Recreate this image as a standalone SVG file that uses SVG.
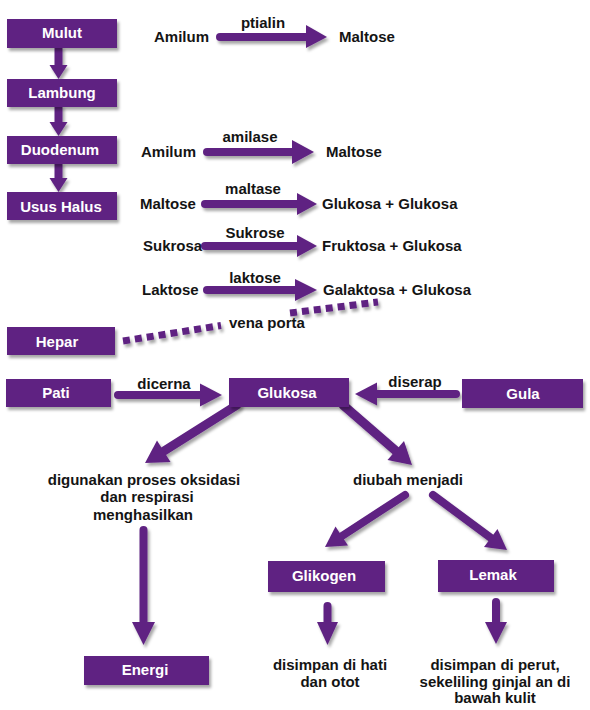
<svg xmlns="http://www.w3.org/2000/svg" width="590" height="710" viewBox="0 0 590 710">
<defs>
<filter id="sh" x="-10%" y="-20%" width="130%" height="160%">
<feDropShadow dx="2" dy="3" stdDeviation="1.8" flood-color="#000" flood-opacity="0.35"/>
</filter>
<style>
.box{fill:#5f2282;filter:url(#sh)}
.bt{font-family:"Liberation Sans",Arial,sans-serif;font-weight:bold;font-size:15px;fill:#fff;text-anchor:middle}
.t{font-family:"Liberation Sans",Arial,sans-serif;font-weight:bold;font-size:15px;fill:#141414}
.c{text-anchor:middle}
.sh{stroke:#5f2282;stroke-width:8;stroke-linecap:round;fill:none}
.hd{fill:#5f2282}
.dot{stroke:#5f2282;stroke-width:7;stroke-dasharray:7 5;fill:none}
</style>
</defs>
<rect width="590" height="710" fill="#fff"/>

<g id="connectors" filter="url(#sh)">
<!-- vertical organ chain -->
<line class="sh" x1="58.5" y1="46" x2="58.5" y2="66" style="stroke-linecap:butt"/>
<polygon class="hd" points="49.5,65 67.5,65 58.5,79"/>
<line class="sh" x1="58.5" y1="105" x2="58.5" y2="123" style="stroke-linecap:butt"/>
<polygon class="hd" points="49.5,122 67.5,122 58.5,136"/>
<line class="sh" x1="58.5" y1="162" x2="58.5" y2="179" style="stroke-linecap:butt"/>
<polygon class="hd" points="49.5,178 67.5,178 58.5,192"/>
<!-- reactions -->
<line class="sh" x1="220" y1="37" x2="307" y2="37"/>
<polygon class="hd" points="306,25 306,48 327,37"/>
<line class="sh" x1="207" y1="152" x2="293" y2="152"/>
<polygon class="hd" points="292,140 292,164 314,152"/>
<line class="sh" x1="205" y1="204" x2="298" y2="204"/>
<polygon class="hd" points="297,193 297,215 317,204"/>
<line class="sh" x1="205" y1="246" x2="298" y2="246"/>
<polygon class="hd" points="297,235 297,257 317,246"/>
<line class="sh" x1="207" y1="290" x2="296" y2="290"/>
<polygon class="hd" points="295,279 295,301 317,290"/>
<!-- vena porta -->
<line class="dot" x1="123" y1="341" x2="221" y2="325.5"/>
<line class="dot" x1="290" y1="313" x2="378" y2="302"/>
<!-- Pati / Gula to Glukosa -->
<line class="sh" x1="118" y1="395" x2="201" y2="395"/>
<polygon class="hd" points="200,383.5 200,406.5 222,395"/>
<line class="sh" x1="456" y1="394" x2="376" y2="394"/>
<polygon class="hd" points="377,382.5 377,405.5 355,394"/>
<!-- Glukosa branches -->
<line class="sh" x1="237" y1="405" x2="164" y2="451" style="stroke-width:9"/>
<polygon class="hd" points="170.5,462 157,440.5 145,463"/>
<line class="sh" x1="343" y1="405" x2="396" y2="451" style="stroke-width:9"/>
<polygon class="hd" points="387.5,460 404,441 412,465"/>
<!-- oksidasi to Energi -->
<line class="sh" x1="143.5" y1="530" x2="143.5" y2="623"/>
<polygon class="hd" points="132,622 155,622 143.5,645"/>
<!-- diubah menjadi branches -->
<line class="sh" x1="405" y1="495" x2="342" y2="536"/>
<polygon class="hd" points="348,545.5 335.5,526.5 325,547"/>
<line class="sh" x1="433" y1="495" x2="491" y2="538"/>
<polygon class="hd" points="484,547 497.5,529 507,550"/>
<!-- Glikogen / Lemak down -->
<line class="sh" x1="327.5" y1="606" x2="327.5" y2="623"/>
<polygon class="hd" points="317,622 338,622 327.5,645"/>
<line class="sh" x1="496" y1="602" x2="496" y2="623"/>
<polygon class="hd" points="485,622 507,622 496,644"/>
</g>

<g id="mulut"><rect class="box" x="7" y="19" width="110" height="29"/><text class="bt" x="62" y="38">Mulut</text></g>
<g id="lambung"><rect class="box" x="7" y="79" width="110" height="28"/><text class="bt" x="62" y="98">Lambung</text></g>
<g id="duodenum"><rect class="box" x="7" y="136" width="110" height="28"/><text class="bt" x="60" y="155">Duodenum</text></g>
<g id="usus"><rect class="box" x="7" y="192" width="110" height="28"/><text class="bt" x="61" y="212">Usus Halus</text></g>
<g id="hepar"><rect class="box" x="7" y="327" width="108" height="28"/><text class="bt" x="57" y="347">Hepar</text></g>
<g id="pati"><rect class="box" x="6" y="379" width="105" height="28"/><text class="bt" x="56" y="398">Pati</text></g>
<g id="glukosa"><rect class="box" x="229" y="378" width="120" height="29"/><text class="bt" x="287" y="398">Glukosa</text></g>
<g id="gula"><rect class="box" x="462" y="379" width="121" height="29"/><text class="bt" x="523" y="399">Gula</text></g>
<g id="energi"><rect class="box" x="84" y="656" width="125" height="29"/><text class="bt" x="145" y="675">Energi</text></g>
<g id="glikogen"><rect class="box" x="268" y="561" width="117" height="31"/><text class="bt" x="324" y="581">Glikogen</text></g>
<g id="lemak"><rect class="box" x="438" y="560" width="116" height="32"/><text class="bt" x="493" y="580">Lemak</text></g>

<g id="labels">
<text class="t" x="154" y="42">Amilum</text>
<text class="t c" x="263" y="28">ptialin</text>
<text class="t" x="339" y="42">Maltose</text>
<text class="t" x="141" y="157">Amilum</text>
<text class="t c" x="250" y="142">amilase</text>
<text class="t" x="326" y="157">Maltose</text>
<text class="t" x="140" y="209">Maltose</text>
<text class="t c" x="253" y="194">maltase</text>
<text class="t" x="322" y="209">Glukosa + Glukosa</text>
<text class="t" x="143" y="251">Sukrosa</text>
<text class="t c" x="255" y="238">Sukrose</text>
<text class="t" x="322" y="251">Fruktosa + Glukosa</text>
<text class="t" x="142" y="295">Laktose</text>
<text class="t c" x="255" y="283">laktose</text>
<text class="t" x="323" y="295">Galaktosa + Glukosa</text>
<text class="t" x="229" y="328">vena porta</text>
<text class="t c" x="164" y="389">dicerna</text>
<text class="t c" x="415" y="387">diserap</text>
<text class="t c" x="144" y="485">digunakan proses oksidasi</text>
<text class="t c" x="147" y="502">dan respirasi</text>
<text class="t c" x="143" y="520">menghasilkan</text>
<text class="t c" x="408" y="485">diubah menjadi</text>
<text class="t c" x="330" y="670">disimpan di hati</text>
<text class="t c" x="330" y="687">dan otot</text>
<text class="t c" x="495" y="670">disimpan di perut,</text>
<text class="t c" x="495" y="687">sekeliling ginjal an di</text>
<text class="t c" x="495" y="703">bawah kulit</text>
</g>
</svg>
